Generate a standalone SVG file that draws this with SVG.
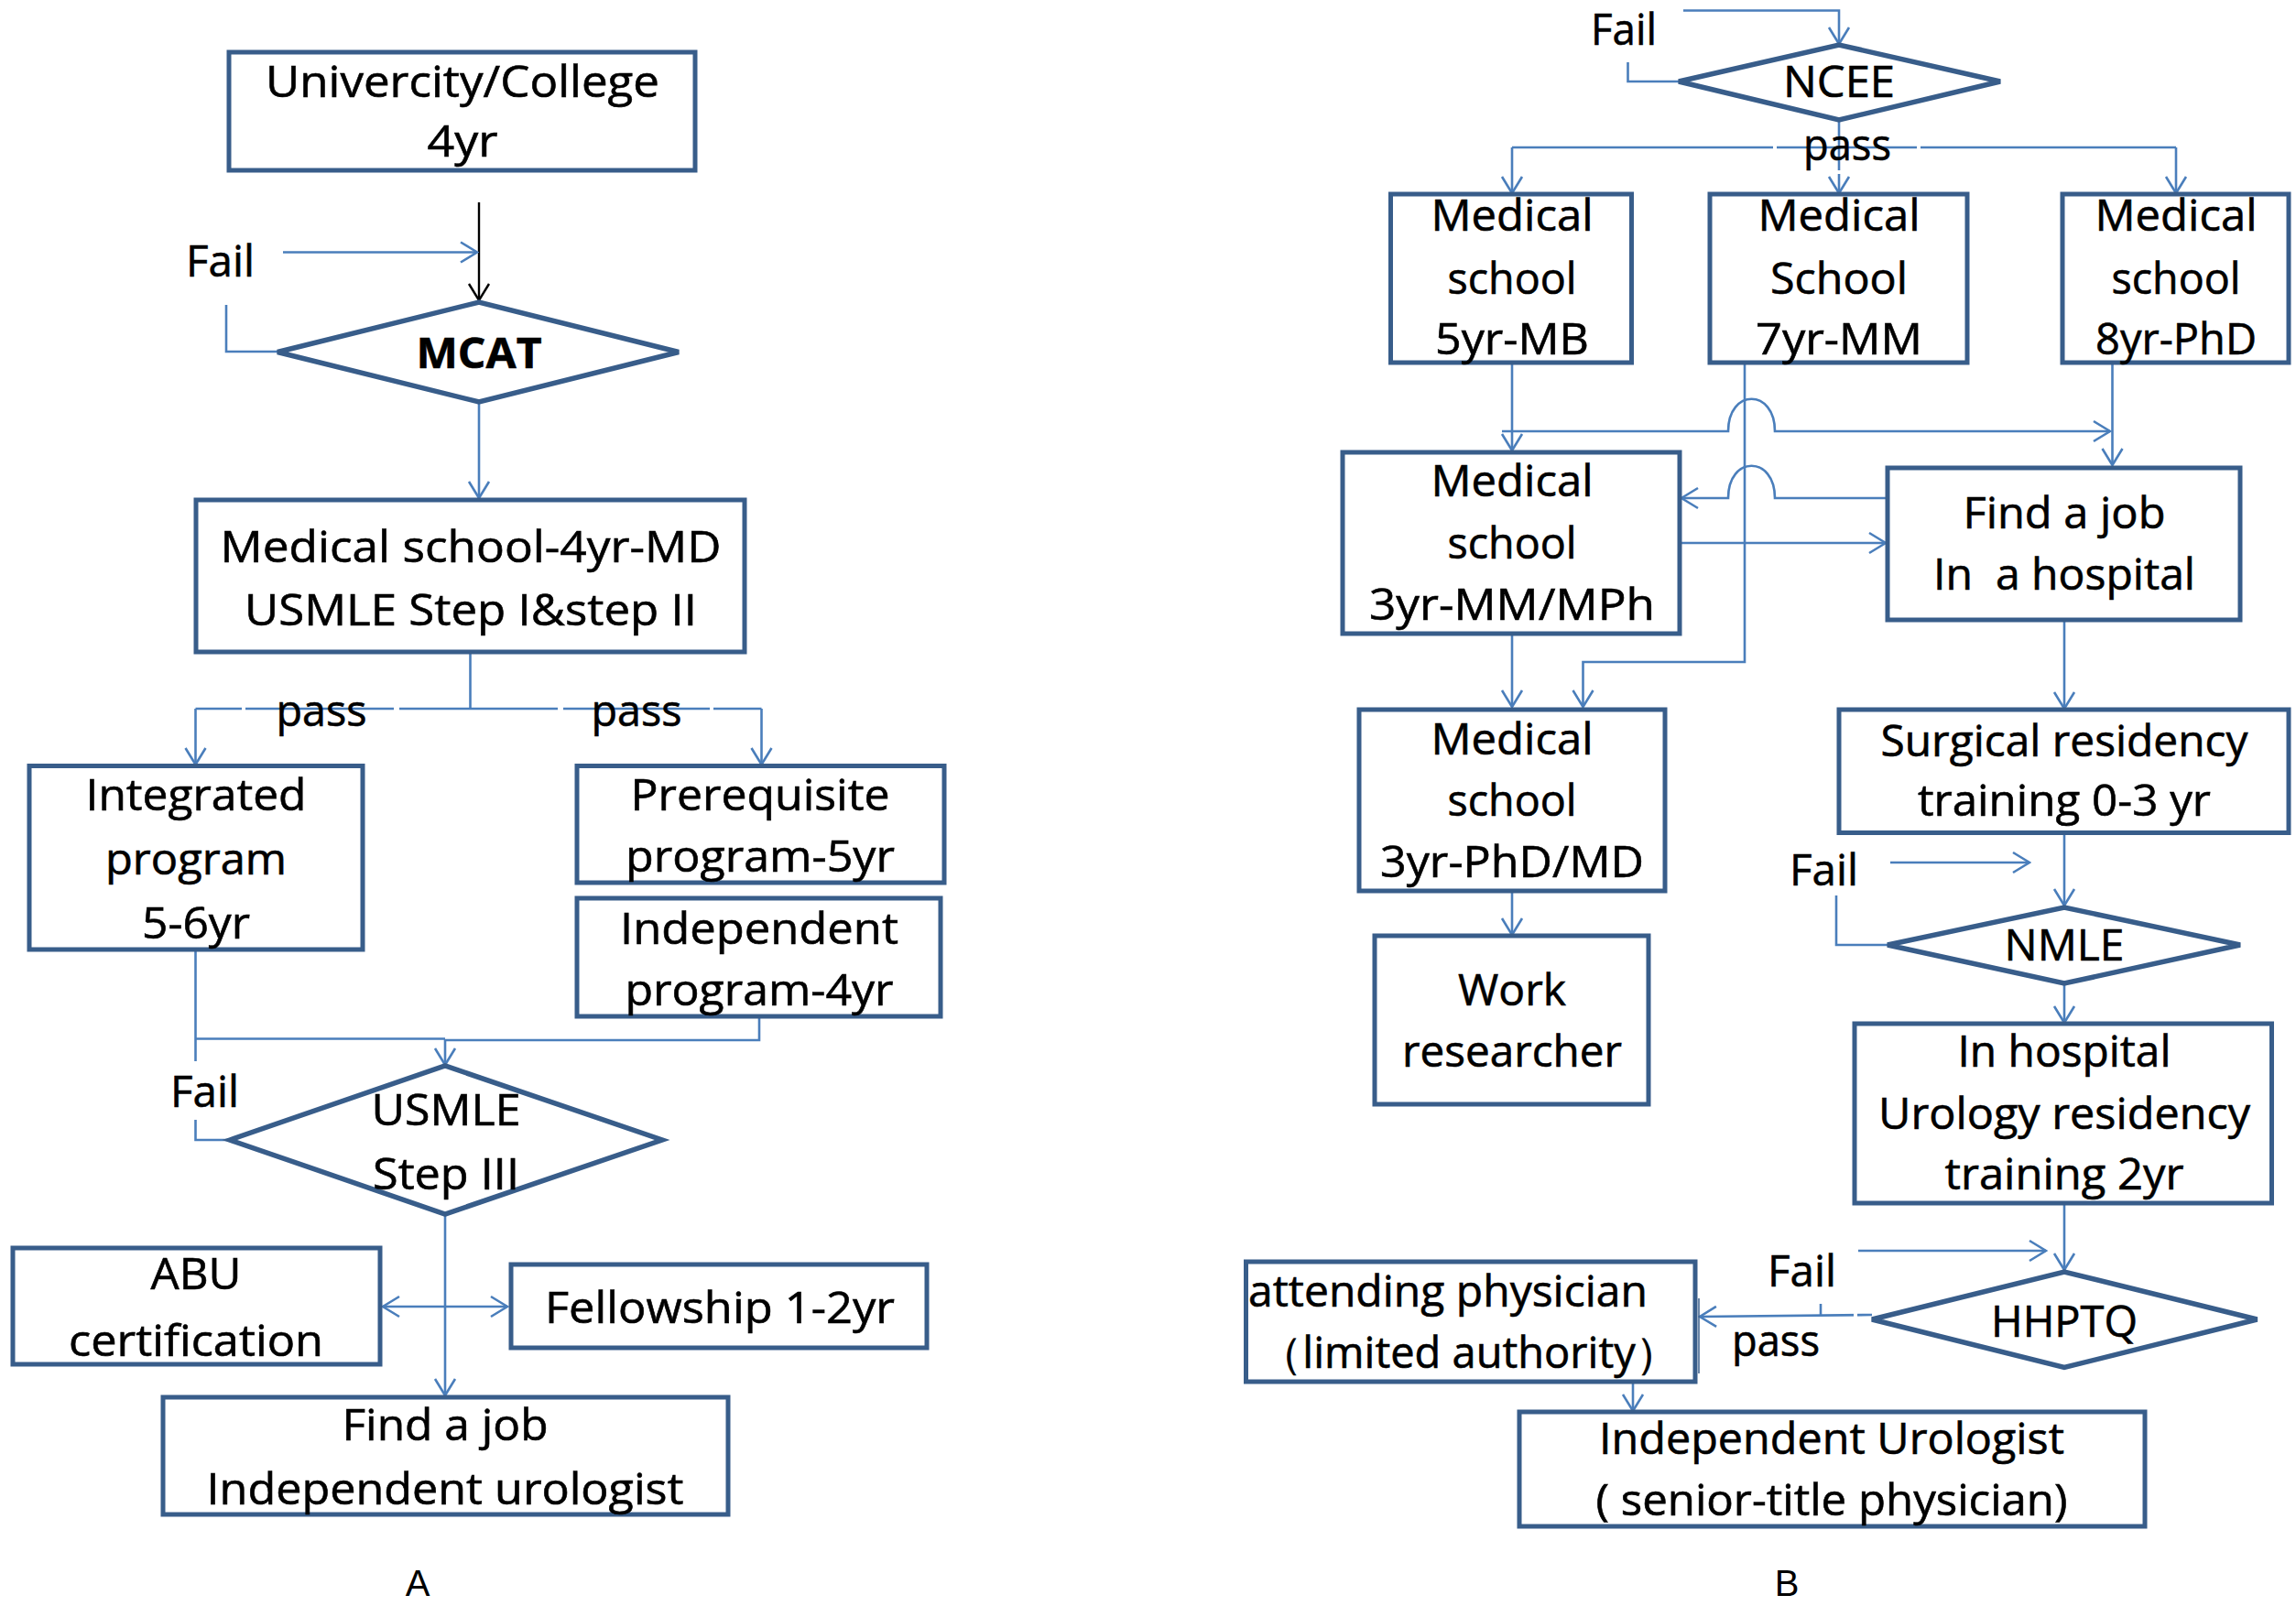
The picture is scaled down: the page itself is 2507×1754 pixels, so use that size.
<svg xmlns="http://www.w3.org/2000/svg" width="2507" height="1754" viewBox="0 0 2507 1754">
<style>
.box{fill:#fff;stroke:#385D8A;stroke-width:5}
.dia{fill:#fff;stroke:#385D8A;stroke-width:5.5;stroke-linejoin:miter}
.c{fill:none;stroke:#4A7EBB;stroke-width:2.6}
.ca{fill:none;stroke:#4A7EBB;stroke-width:2.6;marker-end:url(#ah)}
.gap{fill:#fff}
.t{font-family:"Open Sans","Liberation Sans",sans-serif;font-size:47px;fill:#000;stroke:#000;stroke-width:0.6;text-anchor:middle}
.l{font-family:"Open Sans","Liberation Sans",sans-serif;font-size:47px;fill:#000;stroke:#000;stroke-width:0.6}
.cap{font-family:"Liberation Sans",Arial,sans-serif;font-size:40px;fill:#000;text-anchor:middle}
</style>
<defs>
<marker id="ah" markerUnits="userSpaceOnUse" markerWidth="22" markerHeight="26" viewBox="0 0 22 26" refX="20" refY="13" orient="auto-start-reverse">
<path d="M2,2 L20,13 L2,24" fill="none" stroke="#4A7EBB" stroke-width="2.6"/>
</marker>
<marker id="ahk" markerUnits="userSpaceOnUse" markerWidth="22" markerHeight="26" viewBox="0 0 22 26" refX="20" refY="13" orient="auto">
<path d="M2,2 L20,13 L2,24" fill="none" stroke="#000" stroke-width="2.4"/>
</marker>
</defs>
<rect width="2507" height="1754" fill="#fff"/>

<g id="connectors">
<!-- Panel A -->
<line x1="523" y1="221" x2="523" y2="328" stroke="#000" stroke-width="2.4" marker-end="url(#ahk)"/>
<line class="ca" x1="309" y1="275.5" x2="521" y2="275.5"/>
<polyline class="c" points="247,333 247,384 303,384"/>
<line class="ca" x1="523" y1="439" x2="523" y2="544"/>
<line class="c" x1="513.5" y1="712" x2="513.5" y2="774"/>
<line class="c" x1="213.5" y1="774" x2="831.5" y2="774"/>
<line class="ca" x1="213.5" y1="774" x2="213.5" y2="835"/>
<line class="ca" x1="831.5" y1="774" x2="831.5" y2="835"/>
<rect class="gap" x="264" y="770" width="4" height="8"/>
<rect class="gap" x="430" y="770" width="6" height="8"/>
<rect class="gap" x="609" y="770" width="6" height="8"/>
<rect class="gap" x="775" y="770" width="4" height="8"/>
<line class="c" x1="213.5" y1="1037" x2="213.5" y2="1159"/>
<line class="c" x1="213.5" y1="1134.5" x2="486" y2="1134.5"/>
<polyline class="c" points="829,1110 829,1136 486,1136"/>
<line class="ca" x1="486" y1="1135" x2="486" y2="1163"/>
<polyline class="c" points="213.5,1223 213.5,1245 251,1245"/>
<line class="ca" x1="486" y1="1326" x2="486" y2="1524"/>
<line class="c" x1="418" y1="1427" x2="554" y2="1427" marker-start="url(#ah)" marker-end="url(#ah)"/>
<!-- Panel B -->
<polyline class="ca" points="1838,11.5 2008,11.5 2008,48"/>
<polyline class="c" points="1777.5,68 1777.5,89 1833,89"/>
<line class="c" x1="2008" y1="131" x2="2008" y2="161"/>
<line class="c" x1="1651" y1="161" x2="2376" y2="161"/>
<line class="ca" x1="1651" y1="161" x2="1651" y2="211"/>
<line class="ca" x1="2008" y1="161" x2="2008" y2="211"/>
<line class="ca" x1="2376" y1="161" x2="2376" y2="211"/>
<rect class="gap" x="1936" y="157" width="4" height="8"/>
<rect class="gap" x="2093" y="157" width="4" height="8"/>
<rect class="gap" x="2004" y="186" width="8" height="4"/>
<line class="ca" x1="1651" y1="396" x2="1651" y2="492"/>
<path class="ca" d="M1640,471 H1887 C1887,424 1938,424 1938,471 H2304"/>
<line class="ca" x1="2306.5" y1="396" x2="2306.5" y2="508"/>
<path class="ca" d="M2060,544 H1938 C1938,497 1887,497 1887,544 H1836"/>
<line class="ca" x1="1834" y1="593" x2="2059" y2="593"/>
<polyline class="ca" points="1905,396 1905,723 1728.5,723 1728.5,772"/>
<line class="ca" x1="1651" y1="692" x2="1651" y2="772"/>
<line class="ca" x1="2254" y1="677" x2="2254" y2="774"/>
<line class="ca" x1="1651" y1="973" x2="1651" y2="1021"/>
<line class="ca" x1="2254" y1="909.5" x2="2254" y2="989"/>
<line class="ca" x1="2064" y1="942" x2="2216" y2="942"/>
<polyline class="c" points="2005,978 2005,1032 2061,1032"/>
<line class="ca" x1="2254" y1="1074" x2="2254" y2="1117"/>
<line class="ca" x1="2254" y1="1314" x2="2254" y2="1387"/>
<line class="ca" x1="2029" y1="1366" x2="2234" y2="1366"/>
<line class="ca" x1="2044" y1="1436" x2="1856" y2="1438"/>
<line class="c" x1="1988" y1="1424" x2="1988" y2="1436"/>
<rect class="gap" x="2024" y="1432" width="4" height="8"/>
<line class="ca" x1="1783" y1="1509" x2="1783" y2="1541"/>
</g>

<!-- Panel A nodes -->
<g id="univ"><rect class="box" x="250" y="57" width="509" height="129"/>
<text class="t" x="505" y="106" textLength="430" lengthAdjust="spacingAndGlyphs">Univercity/College</text><text class="t" x="505" y="171" textLength="77" lengthAdjust="spacingAndGlyphs">4yr</text></g>
<g id="mcat"><polygon class="dia" points="303,384.5 523,330 741,384.5 523,439"/>
<text class="t" x="523" y="402" font-weight="bold" textLength="137" lengthAdjust="spacingAndGlyphs">MCAT</text></g>
<g id="fail-a1"><text class="l" x="203" y="302" textLength="75" lengthAdjust="spacingAndGlyphs">Fail</text></g>
<g id="medschool-a"><rect class="box" x="214" y="546" width="599" height="166"/>
<text class="t" x="514" y="614" textLength="547" lengthAdjust="spacingAndGlyphs">Medical school-4yr-MD</text><text class="t" x="514" y="683" textLength="494" lengthAdjust="spacingAndGlyphs">USMLE Step I&amp;step II</text></g>
<g id="pass-a"><text class="t" x="351" y="793" textLength="99" lengthAdjust="spacingAndGlyphs">pass</text><text class="t" x="695" y="793" textLength="99" lengthAdjust="spacingAndGlyphs">pass</text></g>
<g id="integrated"><rect class="box" x="32" y="836.5" width="364" height="200.5"/>
<text class="t" x="214" y="885" textLength="241" lengthAdjust="spacingAndGlyphs">Integrated</text><text class="t" x="214" y="955" textLength="198" lengthAdjust="spacingAndGlyphs">program</text><text class="t" x="214" y="1025" textLength="118" lengthAdjust="spacingAndGlyphs">5-6yr</text></g>
<g id="prereq"><rect class="box" x="630" y="836.5" width="401" height="127.5"/>
<text class="t" x="830" y="885" textLength="283" lengthAdjust="spacingAndGlyphs">Prerequisite</text><text class="t" x="830" y="952" textLength="294" lengthAdjust="spacingAndGlyphs">program-5yr</text></g>
<g id="indep-prog"><rect class="box" x="630" y="981" width="397" height="129"/>
<text class="t" x="829" y="1031" textLength="304" lengthAdjust="spacingAndGlyphs">Independent</text><text class="t" x="829" y="1098" textLength="293" lengthAdjust="spacingAndGlyphs">program-4yr</text></g>
<g id="fail-a2"><text class="l" x="186" y="1209" textLength="75" lengthAdjust="spacingAndGlyphs">Fail</text></g>
<g id="usmle3"><polygon class="dia" points="251,1245 486,1164 723,1245 486,1326"/>
<text class="t" x="487" y="1229" textLength="163" lengthAdjust="spacingAndGlyphs">USMLE</text><text class="t" x="487" y="1299" textLength="160" lengthAdjust="spacingAndGlyphs">Step III</text></g>
<g id="abu"><rect class="box" x="14" y="1363" width="401" height="127"/>
<text class="t" x="214" y="1408" textLength="99" lengthAdjust="spacingAndGlyphs">ABU</text><text class="t" x="214" y="1481" textLength="278" lengthAdjust="spacingAndGlyphs">certification</text></g>
<g id="fellowship"><rect class="box" x="558" y="1381" width="454" height="91"/>
<text class="t" x="786" y="1445" textLength="382" lengthAdjust="spacingAndGlyphs">Fellowship 1-2yr</text></g>
<g id="findjob-a"><rect class="box" x="178" y="1526" width="617" height="128"/>
<text class="t" x="486" y="1573" textLength="225" lengthAdjust="spacingAndGlyphs">Find a job</text><text class="t" x="486" y="1643" textLength="521" lengthAdjust="spacingAndGlyphs">Independent urologist</text></g>
<g id="label-a"><text class="cap" x="456" y="1743">A</text></g>

<!-- Panel B nodes -->
<g id="fail-b1"><text class="l" x="1737" y="49" textLength="72" lengthAdjust="spacingAndGlyphs">Fail</text></g>
<g id="ncee"><polygon class="dia" points="1833,89 2008,49 2184,89 2008,131"/>
<text class="t" x="2008" y="106" textLength="122" lengthAdjust="spacingAndGlyphs">NCEE</text></g>
<g id="pass-b1"><text class="t" x="2017" y="175" textLength="96" lengthAdjust="spacingAndGlyphs">pass</text></g>
<g id="ms5"><rect class="box" x="1518.5" y="212" width="263" height="184"/>
<text class="t" x="1651" y="252" textLength="177" lengthAdjust="spacingAndGlyphs">Medical</text><text class="t" x="1651" y="321" textLength="141" lengthAdjust="spacingAndGlyphs">school</text><text class="t" x="1651" y="387" textLength="168" lengthAdjust="spacingAndGlyphs">5yr-MB</text></g>
<g id="ms7"><rect class="box" x="1867" y="212" width="281" height="184"/>
<text class="t" x="2008" y="252" textLength="177" lengthAdjust="spacingAndGlyphs">Medical</text><text class="t" x="2008" y="321" textLength="150" lengthAdjust="spacingAndGlyphs">School</text><text class="t" x="2008" y="387" textLength="182" lengthAdjust="spacingAndGlyphs">7yr-MM</text></g>
<g id="ms8"><rect class="box" x="2252" y="212" width="247" height="184"/>
<text class="t" x="2376" y="252" textLength="177" lengthAdjust="spacingAndGlyphs">Medical</text><text class="t" x="2376" y="321" textLength="141" lengthAdjust="spacingAndGlyphs">school</text><text class="t" x="2376" y="387" textLength="176" lengthAdjust="spacingAndGlyphs">8yr-PhD</text></g>
<g id="ms3mm"><rect class="box" x="1466" y="494" width="368" height="198"/>
<text class="t" x="1651" y="542" textLength="177" lengthAdjust="spacingAndGlyphs">Medical</text><text class="t" x="1651" y="610" textLength="141" lengthAdjust="spacingAndGlyphs">school</text><text class="t" x="1651" y="677" textLength="312" lengthAdjust="spacingAndGlyphs">3yr-MM/MPh</text></g>
<g id="findjob-b"><rect class="box" x="2061" y="511" width="385" height="166"/>
<text class="t" x="2254" y="577" textLength="221" lengthAdjust="spacingAndGlyphs">Find a job</text><text class="t" x="2254" y="644" xml:space="preserve" textLength="286" lengthAdjust="spacingAndGlyphs">In  a hospital</text></g>
<g id="ms3phd"><rect class="box" x="1484" y="775" width="334" height="198"/>
<text class="t" x="1651" y="824" textLength="177" lengthAdjust="spacingAndGlyphs">Medical</text><text class="t" x="1651" y="891" textLength="141" lengthAdjust="spacingAndGlyphs">school</text><text class="t" x="1651" y="958" textLength="288" lengthAdjust="spacingAndGlyphs">3yr-PhD/MD</text></g>
<g id="surgical"><rect class="box" x="2008" y="775" width="491" height="134.5"/>
<text class="t" x="2254" y="826" textLength="401" lengthAdjust="spacingAndGlyphs">Surgical residency</text><text class="t" x="2254" y="891" textLength="320" lengthAdjust="spacingAndGlyphs">training 0-3 yr</text></g>
<g id="work"><rect class="box" x="1501" y="1022" width="299" height="184"/>
<text class="t" x="1651" y="1098" textLength="118" lengthAdjust="spacingAndGlyphs">Work</text><text class="t" x="1651" y="1165" textLength="240" lengthAdjust="spacingAndGlyphs">researcher</text></g>
<g id="fail-b2"><text class="l" x="1954" y="967" textLength="75" lengthAdjust="spacingAndGlyphs">Fail</text></g>
<g id="nmle"><polygon class="dia" points="2061,1032 2254,991 2446,1032 2254,1074"/>
<text class="t" x="2254" y="1049" textLength="131" lengthAdjust="spacingAndGlyphs">NMLE</text></g>
<g id="inhospital"><rect class="box" x="2025" y="1118" width="455.5" height="196"/>
<text class="t" x="2254" y="1165" textLength="233" lengthAdjust="spacingAndGlyphs">In hospital</text><text class="t" x="2254" y="1233" textLength="406" lengthAdjust="spacingAndGlyphs">Urology residency</text><text class="t" x="2254" y="1299" textLength="261" lengthAdjust="spacingAndGlyphs">training 2yr</text></g>
<g id="fail-b3"><text class="l" x="1930" y="1405" textLength="75" lengthAdjust="spacingAndGlyphs">Fail</text></g>
<g id="hhptq"><polygon class="dia" points="2044,1441 2254,1389 2464.5,1441 2254,1493.5"/>
<text class="t" x="2254" y="1460" textLength="160" lengthAdjust="spacingAndGlyphs">HHPTQ</text></g>
<g id="pass-b2"><text class="l" x="1891" y="1481" textLength="96" lengthAdjust="spacingAndGlyphs">pass</text></g>
<g id="attending"><rect class="box" x="1360.5" y="1378" width="490.5" height="131"/>
<line x1="1855" y1="1418" x2="1855" y2="1500" stroke="#385D8A" stroke-width="1.5"/>
<text class="t" x="1581" y="1427" textLength="436" lengthAdjust="spacingAndGlyphs">attending physician</text><text class="t" x="1604" y="1494" font-family="'Open Sans','Noto Sans CJK SC',sans-serif">（limited authority）</text></g>
<g id="indep-urologist"><rect class="box" x="1659" y="1542" width="683" height="125"/>
<text class="t" x="2000" y="1588" textLength="508" lengthAdjust="spacingAndGlyphs">Independent Urologist</text><text class="t" x="2000" y="1655" textLength="515" lengthAdjust="spacingAndGlyphs">( senior-title physician)</text></g>
<g id="label-b"><text class="cap" x="1951" y="1743">B</text></g>
</svg>
